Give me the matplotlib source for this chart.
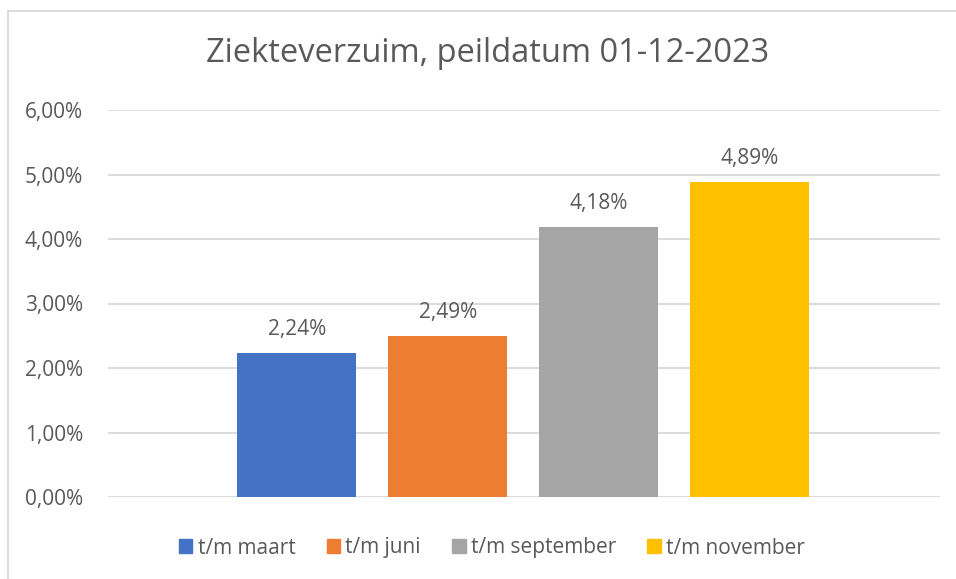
import matplotlib.pyplot as plt
import matplotlib.patches as mpatches
import numpy as np

plt.rcParams['font.family'] = ['Open Sans', 'DejaVu Sans']

series = ['t/m maart', 't/m juni', 't/m september', 't/m november']
values = [2.24, 2.49, 4.18, 4.89]
colors = ['#4472C4', '#ED7D31', '#A5A5A5', '#FFC000']
yticks = [0, 1, 2, 3, 4, 5, 6]

txt = '#595959'
fig = plt.figure(figsize=(9.56, 5.79), dpi=100)
ax = fig.add_axes([108/956, 1-497/579, (940-108)/956, (497-110)/579])

x = np.arange(len(series))
bars = ax.bar(x, values, width=0.79, color=colors, zorder=3)
for b, v in zip(bars, values):
    ax.text(b.get_x() + b.get_width()/2, v + 0.2,
            ('%.2f%%' % v).replace('.', ','),
            ha='center', va='bottom', fontsize=15, color=txt)

ax.set_xlim(-1.25, 4.26)
ax.set_ylim(0, 6)
ax.set_yticks(yticks)
ax.set_yticklabels([('%.2f%%' % t).replace('.', ',') for t in yticks],
                   fontsize=15, color=txt)
ax.set_xticks([])
ax.tick_params(axis='y', length=0, pad=18)
ax.grid(axis='y', color='#D9D9D9', linewidth=1.3, zorder=0)
for s in ax.spines.values():
    s.set_visible(False)

fig.text(488/956, 1-53/579, 'Ziekteverzuim, peildatum 01-12-2023',
         ha='center', va='center', fontsize=23.5, color=txt)

handles = [mpatches.Patch(color=c, label=s) for c, s in zip(colors, series)]
fig.legend(handles=handles, loc='center', bbox_to_anchor=(492/956, 1-548/579),
           ncol=4, frameon=False, fontsize=15, labelcolor=txt,
           handlelength=0.65, handleheight=0.65, handletextpad=0.25,
           columnspacing=1.5)

# chart border (left and top)
fig.add_artist(plt.Line2D([8/956, 8/956], [0, 1-11/579], color='#D9D9D9',
                          linewidth=1.3, transform=fig.transFigure))
fig.add_artist(plt.Line2D([8/956, 1], [1-11/579, 1-11/579], color='#D9D9D9',
                          linewidth=1.3, transform=fig.transFigure))

fig.savefig('out.png', dpi=100)
